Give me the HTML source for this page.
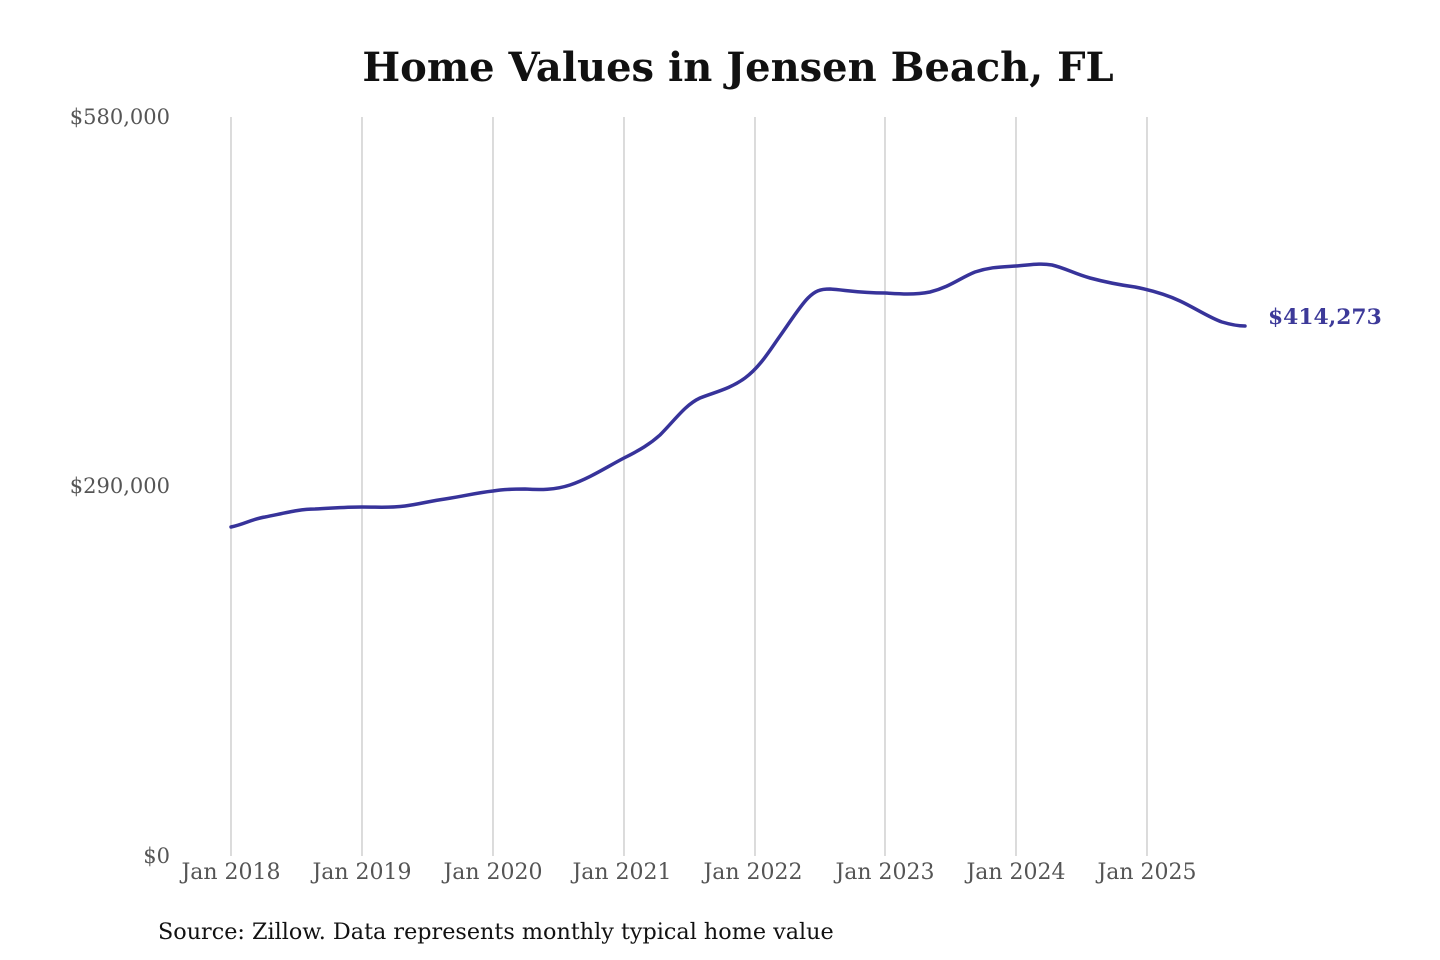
<!DOCTYPE html>
<html><head><meta charset="utf-8"><style>
html,body{margin:0;padding:0;background:#fff;}
</style></head><body>
<svg width="1440" height="960" xmlns="http://www.w3.org/2000/svg" style="display:block">
<rect width="1440" height="960" fill="#fff"/>
<text x="738" y="81" text-anchor="middle" font-family="DejaVu Serif, serif" font-weight="bold" font-size="40" fill="#111">Home Values in Jensen Beach, FL</text>
<g stroke="#c8c8c8" stroke-width="1.3">
<line x1="231" y1="117" x2="231" y2="856"/>
<line x1="362" y1="117" x2="362" y2="856"/>
<line x1="493" y1="117" x2="493" y2="856"/>
<line x1="624" y1="117" x2="624" y2="856"/>
<line x1="755" y1="117" x2="755" y2="856"/>
<line x1="885" y1="117" x2="885" y2="856"/>
<line x1="1016" y1="117" x2="1016" y2="856"/>
<line x1="1147" y1="117" x2="1147" y2="856"/>
</g>
<g font-family="DejaVu Serif, serif" font-size="21" fill="#555">
<text x="170" y="124" text-anchor="end">$580,000</text>
<text x="170" y="493" text-anchor="end">$290,000</text>
<text x="170" y="863" text-anchor="end">$0</text>
<g text-anchor="middle" font-size="22">
<text x="231" y="879">Jan 2018</text>
<text x="362" y="879">Jan 2019</text>
<text x="493" y="879">Jan 2020</text>
<text x="622" y="879">Jan 2021</text>
<text x="753" y="879">Jan 2022</text>
<text x="885" y="879">Jan 2023</text>
<text x="1016" y="879">Jan 2024</text>
<text x="1147" y="879">Jan 2025</text>
</g>
</g>
<path d="M231,527 C245,524 252,519 265,517 C285,513 300,509 315,509 C335,508 345,507 362,507 C380,507 390,508 405,506 C420,504 430,501 445,499 C465,496 475,493 493,491 C505,489 515,489 525,489 C540,490 555,490 570,485 C590,478 605,468 624,458 C640,450 650,444 660,435 C675,420 685,405 700,398 C715,392 730,389 745,378 C760,367 770,350 780,336 C790,322 800,306 808,298 C815,291 820,289 830,289 C845,290 860,293 885,293 C900,294 915,295 930,292 C950,287 960,278 975,272 C990,267 1000,267 1016,266 C1030,265 1040,263 1052,265 C1065,268 1075,274 1090,278 C1105,282 1120,285 1135,287 C1150,290 1165,294 1180,301 C1195,308 1210,318 1222,322 C1232,325 1238,326 1245,326" fill="none" stroke="#37339a" stroke-width="3.5" stroke-linecap="round"/>
<text x="1268" y="324" font-family="DejaVu Serif, serif" font-weight="bold" font-size="21.8" fill="#3d3a99">$414,273</text>
<text x="158" y="939" font-family="DejaVu Serif, serif" font-size="22.3" fill="#111">Source: Zillow. Data represents monthly typical home value</text>
</svg>
</body></html>
